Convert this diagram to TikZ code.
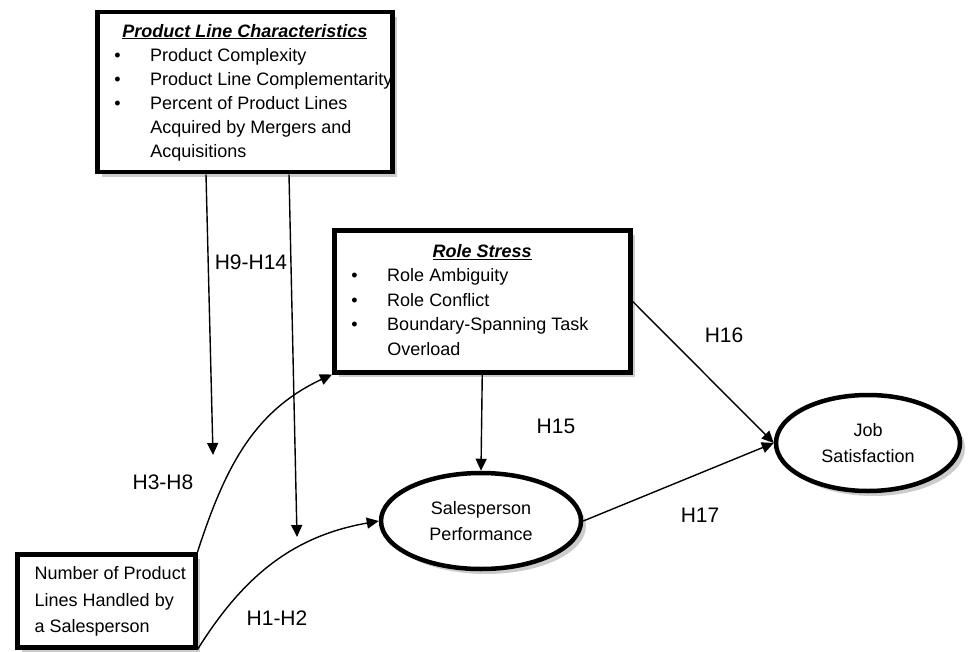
\documentclass[tikz,border=0pt]{standalone}
\usepackage{fontspec}
\setmainfont{Liberation Sans}
\usetikzlibrary{shapes.geometric,shadows,arrows.meta}

\begin{document}
\begin{tikzpicture}[x=1pt,y=1pt,
  box/.style={draw, line width=4.5pt, fill=white, inner sep=0pt,
    drop shadow={shadow xshift=5pt, shadow yshift=-5pt, fill=black!40}},
  oval/.style={box, ellipse, align=center, font=\fontsize{18}{26}\selectfont},
  link/.style={line width=1.4pt, -{Triangle[length=12pt,width=11pt]}},
  hyp/.style={font=\fontsize{21}{24}\selectfont}]

	\useasboundingbox (0,0) rectangle (973,-652);

	\node[box, anchor=north west, minimum width=295pt, minimum height=160pt,
	  font=\fontsize{18}{24}\selectfont] (plc) at (95,-10)
	  {\begin{tabular}{@{\hspace{17pt}}p{36pt}@{}l@{}}
	   \multicolumn{2}{@{}c@{}}{\textbf{\textit{\underline{Product Line Characteristics}}}}\\
	   \textbullet & Product Complexity\\
	   \textbullet & Product Line Complementarity\\
	   \textbullet & Percent of Product Lines\\
	   & Acquired by Mergers and\\
	   & Acquisitions
	   \end{tabular}};
	\node[box, anchor=north west, minimum width=296pt, minimum height=142pt,
	  font=\fontsize{18}{24.5}\selectfont] (rs) at (332,-228)
	  {\begin{tabular}{@{\hspace{17pt}}p{36pt}@{}p{243pt}@{}}
	   \multicolumn{2}{@{}c@{}}{\textbf{\textit{\underline{Role Stress}}}}\\
	   \textbullet & Role Ambiguity\\
	   \textbullet & Role Conflict\\
	   \textbullet & Boundary-Spanning Task\\
	   & Overload
	   \end{tabular}};
	\node[box, anchor=north west, minimum width=178pt, minimum height=93pt,
	  font=\fontsize{18}{26.5}\selectfont] (num) at (15,-552)
	  {\begin{tabular}{@{\hspace{8pt}}l@{}}
	   Number of Product\\
	   Lines Handled by\\
	   a Salesperson
	   \end{tabular}};
	\node[oval, minimum width=200pt, minimum height=96pt] (sp) at (481,-521) {Salesperson\\Performance};
	\node[oval, minimum width=184pt, minimum height=96pt] (js) at (868,-443) {Job\\Satisfaction};

	\coordinate (t1) at (213,-455);
	\coordinate (t2) at (297,-537);
	\draw[link] ([xshift=111pt]plc.south west) -- (t1);
	\draw[link] ([xshift=194pt]plc.south west) -- (t2);
	\draw[link] (num.north east) to[out=72,in=205] (rs.south west);
	\draw[link] (num.south east) to[out=58,in=190] (sp.west);
	\draw[link] (rs.south) -- (sp.north);
	\draw[link] (rs.east) -- (js.west);
	\draw[link] (sp.east) -- (js.west);

	\node[hyp] (h914) at (251,-262) {H9-H14};
	\node[hyp] (h38) at (163,-482) {H3-H8};
	\node[hyp] (h12) at (277,-618) {H1-H2};
	\node[hyp] (h15) at (556,-426) {H15};
	\node[hyp] (h16) at (724,-335) {H16};
	\node[hyp] (h17) at (700,-515) {H17};

\end{tikzpicture}
\end{document}
